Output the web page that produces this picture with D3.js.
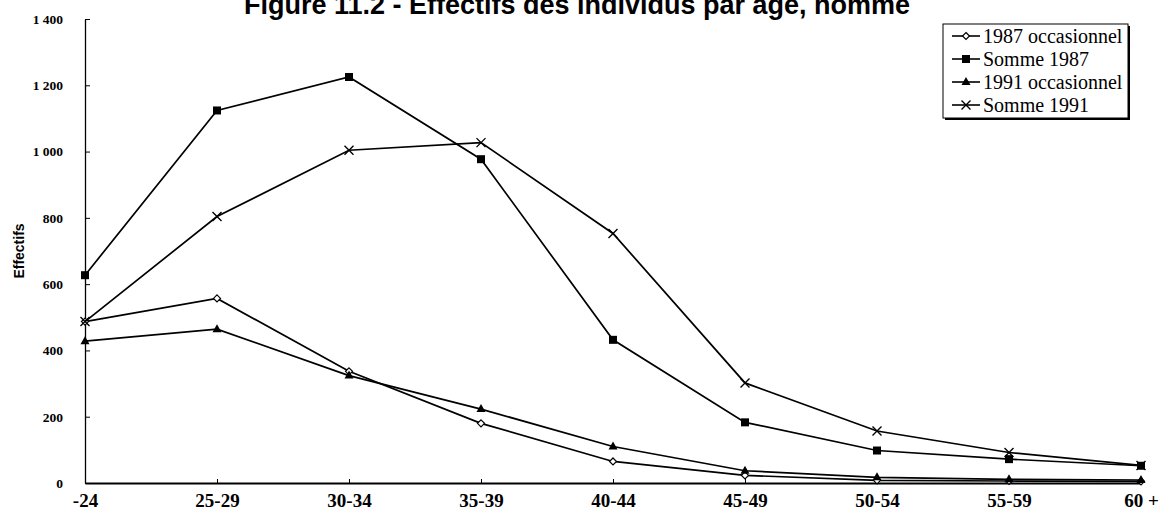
<!DOCTYPE html>
<html>
<head>
<meta charset="utf-8">
<script src="https://cdn.jsdelivr.net/npm/d3@7"></script>
<style>
  html, body { margin: 0; padding: 0; background: #fff; }
  svg { display: block; }
</style>
</head>
<body>
<svg id="chart" width="1166" height="523"></svg>
<script>
// Age groups and head counts (men), 1987 and 1991
const categories = ["-24", "25-29", "30-34", "35-39", "40-44", "45-49", "50-54", "55-59", "60 +"];
const occasionnel1987 = [487, 557, 337, 180, 65, 23, 8, 6, 5];
const somme1987 = [627, 1124, 1225, 977, 432, 183, 98, 72, 52];
const occasionnel1991 = [428, 464, 324, 223, 110, 37, 17, 11, 9];
const somme1991 = [487, 804, 1004, 1027, 753, 302, 157, 92, 53];
const yTicks = [0, 200, 400, 600, 800, 1000, 1200, 1400];

const series = [
  { name: "1987 occasionnel", values: occasionnel1987, marker: "diamond" },
  { name: "Somme 1987", values: somme1987, marker: "square" },
  { name: "1991 occasionnel", values: occasionnel1991, marker: "triangle" },
  { name: "Somme 1991", values: somme1991, marker: "cross" }
];

const svg = d3.select("#chart");
const plotLeft = 85, plotRight = 1141, plotTop = 19, plotBottom = 483;

const x = d3.scalePoint().domain(categories).range([plotLeft, plotRight]);
const y = d3.scaleLinear().domain([0, 1400]).range([plotBottom, plotTop]);

// French thousands separator: "1 400"
const fmt = v => v >= 1000 ? Math.floor(v / 1000) + " " + String(v % 1000).padStart(3, "0") : String(v);

// Title (its top runs past the upper edge of the frame)
svg.append("text")
  .attr("x", 577).attr("y", 14)
  .attr("text-anchor", "middle")
  .attr("font-family", "Liberation Sans, Arial, sans-serif")
  .attr("font-weight", "bold")
  .attr("font-size", 27)
  .text("Figure 11.2 - Effectifs des individus par âge, homme");

// Y axis
const yAxis = d3.axisLeft(y).tickValues(yTicks).tickFormat(fmt).tickSizeInner(-5).tickSizeOuter(0).tickPadding(22);
const gy = svg.append("g").attr("transform", `translate(${plotLeft},0)`).call(yAxis);
gy.select(".domain").attr("stroke", "#000").attr("stroke-width", 1.3);
gy.selectAll(".tick line").attr("stroke", "#000");
gy.selectAll(".tick text")
  .attr("font-family", "Liberation Serif, Times New Roman, serif")
  .attr("font-weight", "bold")
  .attr("font-size", 13.5)
  .attr("fill", "#000");

// X axis
const xAxis = d3.axisBottom(x).tickSizeInner(-4).tickSizeOuter(0).tickPadding(11);
const gx = svg.append("g").attr("transform", `translate(0,${plotBottom})`).call(xAxis);
gx.select(".domain").attr("stroke", "#000").attr("stroke-width", 1.8);
gx.selectAll(".tick line").attr("stroke", "#000");
gx.selectAll(".tick text")
  .attr("font-family", "Liberation Serif, Times New Roman, serif")
  .attr("font-weight", "bold")
  .attr("font-size", 19)
  .attr("fill", "#000");

// Y axis title
svg.append("text")
  .attr("transform", `translate(24,${(plotTop + plotBottom) / 2}) rotate(-90)`)
  .attr("text-anchor", "middle")
  .attr("font-family", "Liberation Sans, Arial, sans-serif")
  .attr("font-weight", "bold")
  .attr("font-size", 14)
  .text("Effectifs");

// Marker drawing
function drawMarker(g, type, cx, cy) {
  if (type === "diamond") {
    g.append("path")
      .attr("d", `M${cx},${cy - 3.5}L${cx + 3.5},${cy}L${cx},${cy + 3.5}L${cx - 3.5},${cy}Z`)
      .attr("fill", "#fff").attr("stroke", "#000").attr("stroke-width", 1.2);
  } else if (type === "square") {
    g.append("rect").attr("x", cx - 4).attr("y", cy - 4).attr("width", 8).attr("height", 8).attr("fill", "#000");
  } else if (type === "triangle") {
    g.append("path")
      .attr("d", `M${cx},${cy - 5}L${cx + 4.5},${cy + 3}L${cx - 4.5},${cy + 3}Z`)
      .attr("fill", "#000");
  } else if (type === "cross") {
    g.append("path")
      .attr("d", `M${cx - 4.5},${cy - 4.5}L${cx + 4.5},${cy + 4.5}M${cx + 4.5},${cy - 4.5}L${cx - 4.5},${cy + 4.5}`)
      .attr("stroke", "#000").attr("stroke-width", 1.4);
  }
}

const line = d3.line().x((d, i) => x(categories[i])).y(d => y(d));

series.forEach(s => {
  const g = svg.append("g");
  g.append("path")
    .attr("d", line(s.values))
    .attr("fill", "none")
    .attr("stroke", "#000")
    .attr("stroke-width", 1.7);
  s.values.forEach((v, i) => drawMarker(g, s.marker, x(categories[i]), y(v)));
});

// Legend with drop shadow
const lgX = 943, lgY = 24, lgW = 185, lgH = 94, rowH = 23;
const lg = svg.append("g");
lg.append("rect")
  .attr("x", lgX + 2).attr("y", lgY + 2).attr("width", lgW).attr("height", lgH)
  .attr("fill", "#000");
lg.append("rect")
  .attr("x", lgX).attr("y", lgY).attr("width", lgW).attr("height", lgH)
  .attr("fill", "#fff").attr("stroke", "#000").attr("stroke-width", 1);
series.forEach((s, i) => {
  const cy = lgY + 12 + i * rowH;
  lg.append("line")
    .attr("x1", lgX + 9).attr("x2", lgX + 37)
    .attr("y1", cy).attr("y2", cy)
    .attr("stroke", "#000").attr("stroke-width", 1.6);
  drawMarker(lg, s.marker, lgX + 23, cy);
  lg.append("text")
    .attr("x", lgX + 40).attr("y", cy + 7)
    .attr("font-family", "Liberation Serif, Times New Roman, serif")
    .attr("font-size", 20)
    .text(s.name);
});
</script>
</body>
</html>
